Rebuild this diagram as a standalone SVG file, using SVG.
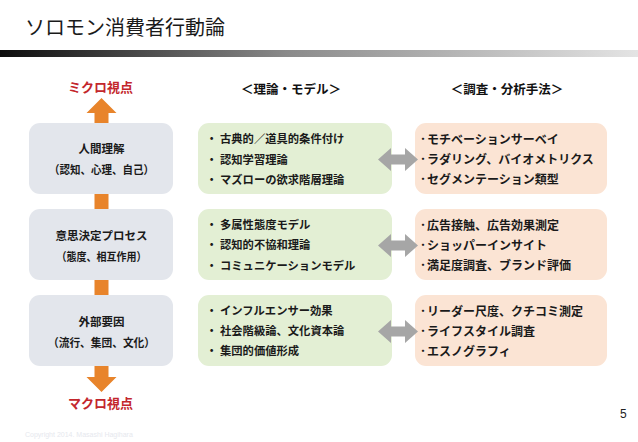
<svg xmlns="http://www.w3.org/2000/svg" width="638" height="442" viewBox="0 0 638 442">
  <defs>
    <linearGradient id="bar" x1="0" y1="0" x2="1" y2="0">
      <stop offset="0" stop-color="#0d0d0d"/>
      <stop offset="0.45" stop-color="#8a8a8a"/>
      <stop offset="1" stop-color="#e4e4e4"/>
    </linearGradient>
  </defs>
  <style>
    .jp { font-family: "Noto Sans CJK JP", "Noto Sans", sans-serif; }
    .title { font-size: 20px; font-weight: 400; fill: #1a1a1a; }
    .hdr { font-size: 12.5px; font-weight: 700; fill: #111; text-anchor: middle; }
    .view { font-size: 13px; font-weight: 700; fill: #c3262c; text-anchor: middle; }
    .lbl { font-size: 11.5px; font-weight: 700; fill: #1a1a1a; text-anchor: middle; }
    .g { font-size: 11.3px; font-weight: 700; fill: #1a1a1a; }
    .r { font-size: 12px; font-weight: 700; fill: #1a1a1a; }
    .lbox { fill: #e3e6ec; }
    .gbox { fill: #e3efd4; }
    .pbox { fill: #fbe4d4; }
    .orange { fill: #e8842b; }
    .gray { fill: #a6a6a6; }
  </style>
  <rect width="638" height="442" fill="#ffffff"/>
  <text class="jp title" x="25" y="35">ソロモン消費者行動論</text>
  <rect x="0" y="50" width="638" height="7" fill="url(#bar)"/>

  <text class="jp view" x="100.5" y="92">ミクロ視点</text>
  <text class="jp hdr" x="291" y="94">＜理論・モデル＞</text>
  <text class="jp hdr" x="507" y="94">＜調査・分析手法＞</text>

  <g id="human">
    <rect class="lbox" x="29" y="123" width="144" height="71" rx="11"/>
    <text class="jp lbl" x="101.5" y="153">人間理解</text>
    <text class="jp lbl" x="101.5" y="174" textLength="105" lengthAdjust="spacingAndGlyphs">（認知、心理、自己）</text>
  </g>
  <g id="decision">
    <rect class="lbox" x="29" y="209" width="144" height="71" rx="11"/>
    <text class="jp lbl" x="101.5" y="240">意思決定プロセス</text>
    <text class="jp lbl" x="101.5" y="261" textLength="90" lengthAdjust="spacingAndGlyphs">（態度、相互作用）</text>
  </g>
  <g id="external">
    <rect class="lbox" x="29" y="295" width="144" height="71" rx="11"/>
    <text class="jp lbl" x="101.5" y="326">外部要因</text>
    <text class="jp lbl" x="101.5" y="347" textLength="107" lengthAdjust="spacingAndGlyphs">（流行、集団、文化）</text>
  </g>

  <g id="theory1">
    <rect class="gbox" x="198" y="123" width="194" height="71" rx="11"/>
    <text class="jp g" x="206" y="143">・<tspan x="220">古典的／道具的条件付け</tspan></text>
    <text class="jp g" x="206" y="164">・<tspan x="220">認知学習理論</tspan></text>
    <text class="jp g" x="206" y="184">・<tspan x="220">マズローの欲求階層理論</tspan></text>
  </g>
  <g id="theory2">
    <rect class="gbox" x="198" y="209" width="194" height="71" rx="11"/>
    <text class="jp g" x="206" y="229">・<tspan x="220">多属性態度モデル</tspan></text>
    <text class="jp g" x="206" y="249">・<tspan x="220">認知的不協和理論</tspan></text>
    <text class="jp g" x="206" y="270">・<tspan x="220">コミュニケーションモデル</tspan></text>
  </g>
  <g id="theory3">
    <rect class="gbox" x="198" y="295" width="194" height="71" rx="11"/>
    <text class="jp g" x="206" y="315">・<tspan x="220">インフルエンサー効果</tspan></text>
    <text class="jp g" x="206" y="335">・<tspan x="220">社会階級論、文化資本論</tspan></text>
    <text class="jp g" x="206" y="355">・<tspan x="220">集団的価値形成</tspan></text>
  </g>

  <g id="method1">
    <rect class="pbox" x="415" y="123" width="192" height="71" rx="11"/>
    <text class="jp r" x="420" y="144">･<tspan x="427">モチベーションサーベイ</tspan></text>
    <text class="jp r" x="420" y="164">･<tspan x="427">ラダリング、バイオメトリクス</tspan></text>
    <text class="jp r" x="420" y="184">･<tspan x="427">セグメンテーション類型</tspan></text>
  </g>
  <g id="method2">
    <rect class="pbox" x="415" y="209" width="192" height="71" rx="11"/>
    <text class="jp r" x="420" y="230">･<tspan x="427">広告接触、広告効果測定</tspan></text>
    <text class="jp r" x="420" y="250">･<tspan x="427">ショッパーインサイト</tspan></text>
    <text class="jp r" x="420" y="270">･<tspan x="427">満足度調査、ブランド評価</tspan></text>
  </g>
  <g id="method3">
    <rect class="pbox" x="415" y="295" width="192" height="71" rx="11"/>
    <text class="jp r" x="420" y="316">･<tspan x="427">リーダー尺度、クチコミ測定</tspan></text>
    <text class="jp r" x="420" y="336">･<tspan x="427">ライフスタイル調査</tspan></text>
    <text class="jp r" x="420" y="356">･<tspan x="427">エスノグラフィ</tspan></text>
  </g>

  <g id="connectors">
    <polygon class="orange" points="101.5,98 116.5,113 108.5,113 108.5,123 94.5,123 94.5,113 86.5,113"/>
    <rect class="orange" x="94.5" y="194" width="14" height="15"/>
    <rect class="orange" x="94.5" y="280" width="14" height="15"/>
    <polygon class="orange" points="94.5,366 108.5,366 108.5,377 116.5,377 101.5,392 86.5,377 94.5,377"/>
    <polygon class="gray" points="378,159.5 391,148 391,154.5 405,154.5 405,148 418,159.5 405,171 405,164.5 391,164.5 391,171"/>
    <polygon class="gray" points="378,245.5 391,234 391,240.5 405,240.5 405,234 418,245.5 405,257 405,250.5 391,250.5 391,257"/>
    <polygon class="gray" points="378,331.5 391,320 391,326.5 405,326.5 405,320 418,331.5 405,343 405,336.5 391,336.5 391,343"/>
  </g>

  <text class="jp view" x="100.5" y="408">マクロ視点</text>
  <text x="620" y="418" font-family="Liberation Sans, Arial, sans-serif" font-size="12" fill="#222">5</text>
  <text x="25" y="437" font-family="Liberation Sans, Arial, sans-serif" font-size="7" fill="#e6e8ee">Copyright 2014. Masashi Hagihara</text>
</svg>
